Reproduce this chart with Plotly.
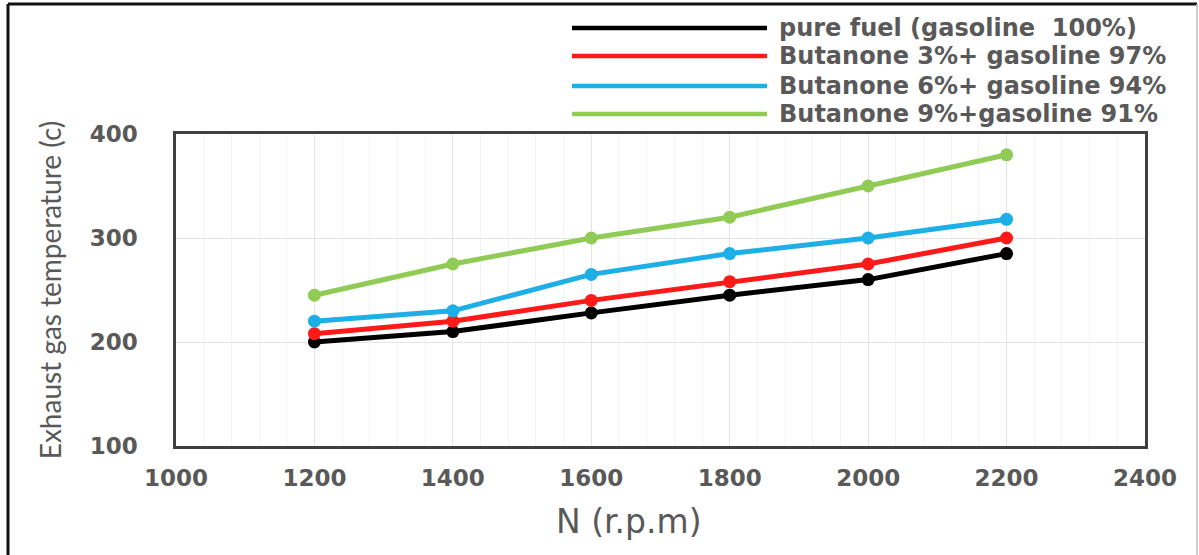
import plotly.graph_objects as go

rpm = [1200, 1400, 1600, 1800, 2000, 2200]
pure_fuel = [200, 210, 228, 245, 260, 285]
butanone_3 = [208, 220, 240, 258, 275, 300]
butanone_6 = [220, 230, 265, 285, 300, 318]
butanone_9 = [245, 275, 300, 320, 350, 380]

series_names = [
    "pure fuel (gasoline  100%)",
    "Butanone 3%+ gasoline 97%",
    "Butanone 6%+ gasoline 94%",
    "Butanone 9%+gasoline 91%",
]
series_values = [pure_fuel, butanone_3, butanone_6, butanone_9]
colors = ["#000000", "#FF1A1A", "#1EAFE6", "#8FCB55"]

W, H = 1199, 555
L, R, T, B = 176, 1145, 134, 446

def px(x):
    return (x - L) / (R - L)

def py(y):
    return (B - y) / (B - T)

fig = go.Figure()
for name, vals, c in zip(series_names, series_values, colors):
    fig.add_trace(go.Scatter(
        x=rpm, y=vals, name=name, mode="lines+markers",
        line=dict(color=c, width=5),
        marker=dict(color=c, size=13, symbol="circle"),
        showlegend=False,
    ))

fig.update_layout(
    width=W, height=H,
    margin=dict(l=L, r=W - R, t=T, b=H - B),
    paper_bgcolor="white", plot_bgcolor="white",
    xaxis=dict(
        range=[1000, 2400], dtick=200, tick0=1000,
        showgrid=True, gridcolor="#E4E4E4", gridwidth=1,
        minor=dict(dtick=40, showgrid=True, gridcolor="#F3F3F3", gridwidth=1),
        showline=True, mirror=True, linecolor="#404040", linewidth=2.5,
        ticks="", tickfont=dict(family="DejaVu Sans", size=23, color="#595959", weight="bold"),
        ticklabelstandoff=10,
        zeroline=False,
    ),
    yaxis=dict(
        range=[100, 400], dtick=100,
        showgrid=True, gridcolor="#E4E4E4", gridwidth=1,
        showline=True, mirror=True, linecolor="#404040", linewidth=2.5,
        ticks="", tickfont=dict(family="DejaVu Sans", size=23, color="#595959", weight="bold"),
        ticklabelstandoff=31,
        title=dict(text="Exhaust gas temperature (c)", font=dict(family="Lato", size=28, color="#595959"), standoff=20),
        zeroline=False,
    ),
)

# x-axis title (sits left of the plot centre in the reference)
fig.add_annotation(xref="paper", yref="paper", x=px(629), y=py(521),
                   xanchor="center", yanchor="middle", showarrow=False,
                   text="N (r.p.m)",
                   font=dict(family="DejaVu Sans", size=33, color="#595959"))

# manual legend (long line samples as in the reference)
legend_rows = [28, 56, 86, 114]
for name, c, ry in zip(series_names, colors, legend_rows):
    fig.add_shape(type="line", xref="paper", yref="paper",
                  x0=px(572), x1=px(767), y0=py(ry), y1=py(ry),
                  line=dict(color=c, width=4.5))
    fig.add_annotation(xref="paper", yref="paper", x=px(777), y=py(ry),
                       xanchor="left", yanchor="middle", showarrow=False,
                       text=name,
                       font=dict(family="DejaVu Sans", size=24, color="#595959", weight="bold"))

# outer picture frame
fig.add_shape(type="line", xref="paper", yref="paper", x0=px(8), x1=px(8), y0=py(4), y1=py(570),
              line=dict(color="#111111", width=3))
fig.add_shape(type="line", xref="paper", yref="paper", x0=px(8), x1=px(1197), y0=py(4), y1=py(4),
              line=dict(color="#111111", width=3))
fig.add_shape(type="line", xref="paper", yref="paper", x0=px(1197), x1=px(1197), y0=py(4), y1=py(570),
              line=dict(color="#BBBBBB", width=1.5))

fig.write_html("out.html", config={"displayModeBar": False},
               post_script="document.body.style.margin='0px';")
